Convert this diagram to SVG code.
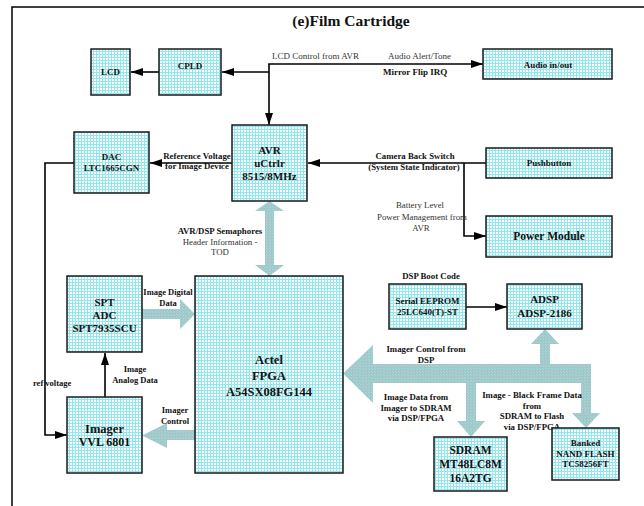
<svg xmlns="http://www.w3.org/2000/svg" width="644" height="506" viewBox="0 0 644 506">
<defs>
<pattern id="grid" patternUnits="userSpaceOnUse" width="3" height="3">
<rect width="3" height="3" fill="#ffffff"/>
<rect width="3" height="1" fill="#8ee8ee"/>
<rect width="1" height="3" fill="#8ee8ee"/>
</pattern>
<pattern id="bus" patternUnits="userSpaceOnUse" width="3" height="3">
<rect width="3" height="3" fill="#a8c4c4"/>
<rect width="1" height="1" fill="#8ce4e8"/>
<rect x="2" y="2" width="1" height="1" fill="#8ce4e8"/>
</pattern>
<marker id="ah" viewBox="0 0 12 8" refX="12" refY="4" markerWidth="12" markerHeight="8" markerUnits="userSpaceOnUse" orient="auto">
<path d="M0,0 L12,4 L0,8 z" fill="#000"/>
</marker>
</defs>
<style>
.box{fill:url(#grid);stroke:#1a1a1a;stroke-width:1.5}
.t{font-family:"Liberation Serif","Times New Roman",serif;font-weight:bold;fill:#111;text-anchor:middle}
.n{font-family:"Liberation Serif","Times New Roman",serif;font-weight:normal;fill:#333;text-anchor:middle}
.ln{fill:none;stroke:#000;stroke-width:1.6}
.bus{fill:url(#bus);stroke:none}
</style>
<rect width="644" height="506" fill="#fff"/>
<path d="M12,506 V7 H644" fill="none" stroke="#000" stroke-width="1.5"/>
<text class="t" x="351" y="26" font-size="15.5">(e)Film Cartridge</text>

<g id="connectors">
<line class="ln" x1="159" y1="72" x2="131" y2="72" marker-end="url(#ah)"/>
<line class="ln" x1="269" y1="72" x2="222" y2="72" marker-end="url(#ah)"/>
<line class="ln" x1="269" y1="64" x2="269" y2="125" marker-end="url(#ah)"/>
<line class="ln" x1="268.2" y1="64" x2="483" y2="64" marker-end="url(#ah)"/>
<line class="ln" x1="232" y1="163" x2="150" y2="163" marker-end="url(#ah)"/>
<polyline class="ln" points="74,163 45,163 45,435 67,435" marker-end="url(#ah)"/>
<line class="ln" x1="486" y1="163" x2="308" y2="163" marker-end="url(#ah)"/>
<polyline class="ln" points="464,163 464,236 486,236" marker-end="url(#ah)"/>
<line class="ln" x1="105" y1="397" x2="105" y2="353" marker-end="url(#ah)"/>
<line class="ln" x1="466" y1="307" x2="507" y2="307" stroke-width="1.2" marker-end="url(#ah)"/>
<polygon class="bus" points="269.5,201 284,211 274,211 274,265 284,265 269.5,276 255,265 265,265 265,211 255,211"/>
<polygon class="bus" points="142,309 180,309 180,299 195,314 180,329 180,319 142,319"/>
<polygon class="bus" points="195,430 167,430 167,423 142,435.5 167,448 167,440 195,440"/>
<polygon class="bus" points="343,373.5 373,345 373,364 591,364 591,413 600,413 586,428 572,413 581,413 581,383 373,383 373,403"/>
<polygon class="bus" points="540,364.5 540,344 531,344 545,329 559,344 550,344 550,364.5"/>
<polygon class="bus" points="466,382.5 476,382.5 476,421 485,421 471,437 457,421 466,421"/>
</g>

<g id="labels">
<text class="n" x="272" y="59" font-size="9" text-anchor="start" style="text-anchor:start">LCD Control from AVR</text>
<text class="n" x="388" y="59" font-size="9" style="text-anchor:start">Audio Alert/Tone</text>
<text class="t" x="383" y="75" font-size="9" style="text-anchor:start">Mirror Flip IRQ</text>
<text class="t" x="197" y="158.5" font-size="8.8">Reference Voltage</text>
<text class="t" x="197" y="169" font-size="8.8">for Image Device</text>
<text class="t" x="415" y="159" font-size="8.8">Camera Back Switch</text>
<text class="t" x="414" y="170" font-size="8.8">(System State Indicator)</text>
<text class="n" x="420" y="208" font-size="8.8">Battery Level</text>
<text class="n" x="422" y="219.5" font-size="8.8">Power Management from</text>
<text class="n" x="421" y="231" font-size="8.8">AVR</text>
<text class="t" x="220" y="234" font-size="8.8">AVR/DSP Semaphores</text>
<text class="n" x="220" y="244.5" font-size="8.8">Header Information -</text>
<text class="n" x="220" y="255" font-size="8.8">TOD</text>
<text class="t" x="431" y="279" font-size="8.8">DSP Boot Code</text>
<text class="t" x="168" y="295" font-size="8.5">Image Digital</text>
<text class="t" x="168" y="306" font-size="8.5">Data</text>
<text class="t" x="135" y="371.5" font-size="8.5">Image</text>
<text class="t" x="135" y="382.5" font-size="8.5">Analog Data</text>
<text class="t" x="33" y="386" font-size="8.5" style="text-anchor:start">ref voltage</text>
<text class="t" x="175" y="413" font-size="8.5">Imager</text>
<text class="t" x="175" y="423.5" font-size="8.5">Control</text>
<text class="t" x="426" y="352" font-size="8.8">Imager Control from</text>
<text class="t" x="426" y="363" font-size="8.8">DSP</text>
<text class="t" x="416" y="400" font-size="8.8">Image Data from</text>
<text class="t" x="416" y="410.5" font-size="8.8">Imager to SDRAM</text>
<text class="t" x="416" y="421" font-size="8.8">via DSP/FPGA</text>
<text class="t" x="532" y="398" font-size="8.8">Image - Black Frame Data</text>
<text class="t" x="532" y="408.5" font-size="8.8">from</text>
<text class="t" x="532" y="419" font-size="8.8">SDRAM to Flash</text>
<text class="t" x="532" y="430" font-size="8.8">via DSP/FPGA</text>
</g>

<g id="lcd"><rect class="box" x="91" y="49" width="39" height="46"/><text class="t" x="110.5" y="75" font-size="9">LCD</text></g>
<g id="cpld"><rect class="box" x="159" y="49" width="62" height="46"/><text class="t" x="190" y="69" font-size="9">CPLD</text></g>
<g id="audio"><rect class="box" x="483" y="49" width="129" height="30"/><text class="t" x="548" y="68" font-size="9">Audio in/out</text></g>
<g id="avr"><rect class="box" x="232" y="125" width="75" height="76"/>
<text class="t" x="269.5" y="154" font-size="11">AVR</text>
<text class="t" x="269.5" y="167" font-size="11">uCtrlr</text>
<text class="t" x="269.5" y="180" font-size="11">8515/8MHz</text></g>
<g id="dac"><rect class="box" x="74" y="132" width="75" height="61"/>
<text class="t" x="111.5" y="160" font-size="9">DAC</text>
<text class="t" x="111.5" y="171" font-size="9">LTC1665CGN</text></g>
<g id="pushbutton"><rect class="box" x="486" y="148" width="126" height="30"/><text class="t" x="549" y="166" font-size="9">Pushbutton</text></g>
<g id="power"><rect class="box" x="486" y="216" width="126" height="41"/><text class="t" x="549" y="240" font-size="11.5">Power Module</text></g>
<g id="adc"><rect class="box" x="67" y="276" width="75" height="76"/>
<text class="t" x="104.5" y="306" font-size="11">SPT</text>
<text class="t" x="104.5" y="319" font-size="11">ADC</text>
<text class="t" x="104.5" y="332" font-size="11">SPT7935SCU</text></g>
<g id="imager"><rect class="box" x="67" y="397" width="75" height="76"/>
<text class="t" x="104.5" y="433" font-size="12.5">Imager</text>
<text class="t" x="104.5" y="446" font-size="12">VVL 6801</text></g>
<g id="fpga"><rect class="box" x="195" y="276" width="148" height="197"/>
<text class="t" x="269" y="364" font-size="12.5">Actel</text>
<text class="t" x="269" y="380" font-size="12.5">FPGA</text>
<text class="t" x="269" y="396" font-size="12.5">A54SX08FG144</text></g>
<g id="eeprom"><rect class="box" x="389" y="284" width="77" height="45"/>
<text class="t" x="427.5" y="304" font-size="9">Serial EEPROM</text>
<text class="t" x="427.5" y="315" font-size="9">25LC640(T)-ST</text></g>
<g id="adsp"><rect class="box" x="507" y="284" width="75" height="45"/>
<text class="t" x="544.5" y="303" font-size="11">ADSP</text>
<text class="t" x="544.5" y="317" font-size="11">ADSP-2186</text></g>
<g id="sdram"><rect class="box" x="434" y="437" width="73" height="54"/>
<text class="t" x="470.5" y="454" font-size="11.5">SDRAM</text>
<text class="t" x="470.5" y="468" font-size="11.5">MT48LC8M</text>
<text class="t" x="470.5" y="482" font-size="11.5">16A2TG</text></g>
<g id="flash"><rect class="box" x="552" y="428" width="67" height="52"/>
<text class="t" x="585.5" y="446" font-size="9">Banked</text>
<text class="t" x="585.5" y="457" font-size="9">NAND FLASH</text>
<text class="t" x="585.5" y="467" font-size="9">TC58256FT</text></g>
</svg>
